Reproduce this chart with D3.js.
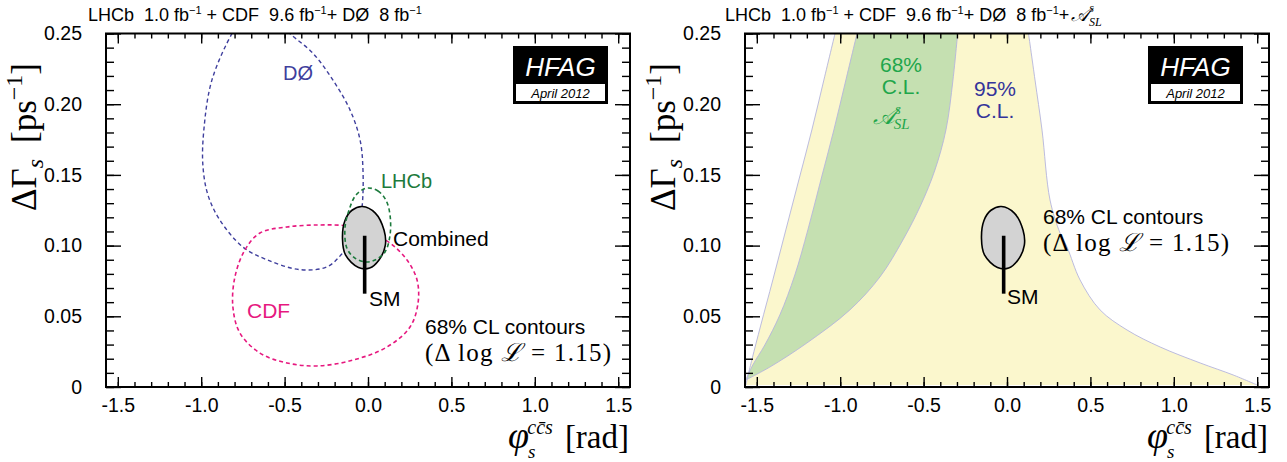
<!DOCTYPE html>
<html><head><meta charset="utf-8">
<script src="https://cdn.jsdelivr.net/npm/d3@7"></script>
<style>body{margin:0;background:#fff}svg{display:block}text{white-space:pre}</style>
</head><body>
<script>
// ---- data ----
const xTicks = [-1.5, -1.0, -0.5, 0.0, 0.5, 1.0, 1.5];
const yTicks = [0, 0.05, 0.10, 0.15, 0.20, 0.25];
const xDomain = [-Math.PI/2, Math.PI/2];
const yDomain = [0, 0.25];

// left panel contours [phi_s, dGamma_s]
const d0Contour = [[-0.74,0.262],[-0.81,0.251],[-0.936,0.217],[-0.984,0.182],[-0.99,0.157],[-0.96,0.136],[-0.888,0.118],[-0.75,0.099],[-0.606,0.090],[-0.408,0.083],[-0.246,0.085],[-0.15,0.095],[-0.066,0.109],[-0.036,0.127],[-0.03,0.153],[-0.048,0.175],[-0.108,0.196],[-0.21,0.217],[-0.33,0.236],[-0.468,0.250],[-0.53,0.258]];
const lhcbContour = [[-0.006,0.1407],[0.06,0.1386],[0.108,0.132],[0.132,0.1216],[0.132,0.1075],[0.102,0.0955],[0.042,0.0898],[-0.012,0.0884],[-0.078,0.0912],[-0.126,0.098],[-0.138,0.1124],[-0.114,0.125],[-0.072,0.1358]];
const cdfContour = [[-0.288,0.1146],[-0.126,0.1139],[0.012,0.1096],[0.132,0.1018],[0.234,0.0898],[0.294,0.0757],[0.3,0.0594],[0.252,0.0424],[0.114,0.0283],[-0.09,0.019],[-0.306,0.0149],[-0.486,0.017],[-0.648,0.024],[-0.768,0.0382],[-0.81,0.0566],[-0.798,0.0778],[-0.738,0.0969],[-0.648,0.1089],[-0.486,0.1132]];
const combinedContour = [[-0.034,0.1276],[0.044,0.123],[0.096,0.111],[0.104,0.1003],[0.066,0.0898],[0.01,0.0841],[-0.057,0.0845],[-0.135,0.0934],[-0.153,0.105],[-0.138,0.1178],[-0.096,0.125]];
const smPoint = {phi: -0.02, lo: 0.066, hi: 0.107};

// right panel bands (A_SL^s constraint)
const yellowLeft = [[-1.026,0.2525],[-1.098,0.2171],[-1.17,0.1818],[-1.248,0.1464],[-1.326,0.1111],[-1.404,0.0757],[-1.476,0.0438],[-1.53,0.0191],[-1.566,0.0014]];
const yellowRight = [[1.5,0.0014],[1.356,0.0085],[1.158,0.017],[0.918,0.0283],[0.72,0.0403],[0.558,0.0545],[0.438,0.0757],[0.36,0.099],[0.318,0.1089],[0.258,0.1322],[0.21,0.1817],[0.168,0.2171],[0.126,0.2525]];
const greenLeft = [[-0.894,0.2525],[-0.966,0.2171],[-1.038,0.1818],[-1.116,0.1464],[-1.194,0.1111],[-1.272,0.0792],[-1.362,0.0509],[-1.452,0.0297],[-1.524,0.0156],[-1.566,0.005]];
const greenRight = [[-1.566,0.005],[-1.422,0.0141],[-1.2,0.0311],[-0.942,0.0545],[-0.762,0.0778],[-0.624,0.104],[-0.516,0.1289],[-0.432,0.1535],[-0.366,0.1818],[-0.324,0.2171],[-0.294,0.2525]];

// ---- drawing ----
const W = 1287, H = 462;
const svg = d3.select("body").append("svg").attr("width", W).attr("height", H);
const SANS = "Liberation Sans, Arial, sans-serif";
const SERIF = "Liberation Serif, Times New Roman, serif";

const panels = [
  {x0: 106, x1: 630, id: "L"},
  {x0: 745, x1: 1269, id: "R"}
];
const yTop = 33.5, yBot = 387;

panels.forEach(p => {
  p.x = d3.scaleLinear().domain(xDomain).range([p.x0, p.x1]);
  p.y = d3.scaleLinear().domain(yDomain).range([yBot, yTop]);
  svg.append("clipPath").attr("id", "clip" + p.id)
    .append("rect").attr("x", p.x0).attr("y", yTop).attr("width", p.x1 - p.x0).attr("height", yBot - yTop);
  p.g = svg.append("g").attr("clip-path", `url(#clip${p.id})`);
});

function line(p, curve) {
  return d3.line().x(d => p.x(d[0])).y(d => p.y(d[1])).curve(curve);
}

// Right panel bands
(function () {
  const p = panels[1];
  const cr = d3.curveCatmullRom;
  const cont = (pts) => line(p, cr)(pts).replace(/^M/, "L");
  const yl = line(p, cr)(yellowLeft) + cont(yellowRight) + "Z";
  p.g.append("path").attr("d", yl).attr("fill", "#fbf7cd").attr("stroke", "none");
  const gr = line(p, cr)(greenLeft) + cont(greenRight) + "Z";
  p.g.append("path").attr("d", gr).attr("fill", "#c5e0b1").attr("stroke", "none");
  [yellowLeft, yellowRight, greenLeft, greenRight].forEach(e => {
    p.g.append("path").attr("d", line(p, cr)(e)).attr("fill", "none")
      .attr("stroke", "#b4b4dc").attr("stroke-width", 0.9);
  });
})();

// Left panel contours
(function () {
  const p = panels[0];
  p.g.append("path").attr("d", line(p, d3.curveCatmullRom)(d0Contour))
    .attr("fill", "none").attr("stroke", "#3f3f9d").attr("stroke-width", 1.4).attr("stroke-dasharray", "4,3");
  p.g.append("path").attr("d", line(p, d3.curveCatmullRomClosed)(cdfContour))
    .attr("fill", "none").attr("stroke", "#e6187f").attr("stroke-width", 1.6).attr("stroke-dasharray", "4,3");
  p.g.append("path").attr("d", line(p, d3.curveCatmullRomClosed)(combinedContour))
    .attr("fill", "#d3d3d3").attr("stroke", "#000").attr("stroke-width", 1.6);
  p.g.append("path").attr("d", line(p, d3.curveCatmullRomClosed)(lhcbContour))
    .attr("fill", "none").attr("stroke", "#1c7a3c").attr("stroke-width", 1.6).attr("stroke-dasharray", "4,3");
})();

// Right panel combined contour
(function () {
  const p = panels[1];
  p.g.append("path").attr("d", line(p, d3.curveCatmullRomClosed)(combinedContour))
    .attr("fill", "#d3d3d3").attr("stroke", "#000").attr("stroke-width", 1.6);
})();

// SM lines
panels.forEach(p => {
  p.g.append("line").attr("x1", p.x(smPoint.phi)).attr("x2", p.x(smPoint.phi))
    .attr("y1", p.y(smPoint.hi)).attr("y2", p.y(smPoint.lo))
    .attr("stroke", "#000").attr("stroke-width", 3.6);
});

// Axes
const fmtX = v => v.toFixed(1);
const fmtY = v => v === 0 ? "0" : v.toFixed(2);
const xMinor = d3.range(-15, 16).map(i => i / 10);
const yMinor = d3.range(0, 26).map(i => i / 100);

panels.forEach(p => {
  const mk = (axis, tr) => {
    const g = svg.append("g").attr("transform", tr).call(axis);
    g.select(".domain").remove();
    g.selectAll(".tick line").attr("stroke", "#000").attr("stroke-width", 1.4);
    return g;
  };
  mk(d3.axisBottom(p.x).tickValues(xMinor).tickSize(-5).tickFormat(""), `translate(0,${yBot})`);
  mk(d3.axisTop(p.x).tickValues(xMinor).tickSize(-5).tickFormat(""), `translate(0,${yTop})`);
  mk(d3.axisLeft(p.y).tickValues(yMinor).tickSize(-8).tickFormat(""), `translate(${p.x0},0)`);
  mk(d3.axisRight(p.y).tickValues(yMinor).tickSize(-8).tickFormat(""), `translate(${p.x1},0)`);
  const gb = mk(d3.axisBottom(p.x).tickValues(xTicks).tickSize(-10).tickPadding(11).tickFormat(fmtX), `translate(0,${yBot})`);
  gb.selectAll("text").attr("font-family", SANS).attr("font-size", 19.5).attr("fill", "#000").attr("dy", "0.71em");
  mk(d3.axisTop(p.x).tickValues(xTicks).tickSize(-10).tickFormat(""), `translate(0,${yTop})`);
  const gl = mk(d3.axisLeft(p.y).tickValues(yTicks).tickSize(-15).tickPadding(24).tickFormat(fmtY), `translate(${p.x0},0)`);
  gl.selectAll("text").attr("font-family", SANS).attr("font-size", 19.5).attr("fill", "#000");
  mk(d3.axisRight(p.y).tickValues(yTicks).tickSize(-15).tickFormat(""), `translate(${p.x1},0)`);
  svg.append("rect").attr("x", p.x0).attr("y", yTop).attr("width", p.x1 - p.x0).attr("height", yBot - yTop)
    .attr("fill", "none").attr("stroke", "#000").attr("stroke-width", 2);

  // y label
  const yl = svg.append("text").attr("transform", `translate(${p.x0 - 70},137) rotate(-90)`)
    .attr("text-anchor", "middle").attr("font-family", SERIF).attr("font-size", 35).attr("fill", "#000");
  yl.append("tspan").text("ΔΓ");
  yl.append("tspan").attr("font-style", "italic").attr("font-size", 24).attr("dy", 7).text("s");
  yl.append("tspan").attr("dy", -7).attr("dx", 16).text("[ps");
  yl.append("tspan").attr("font-size", 24).attr("dy", -14).text("−1");
  yl.append("tspan").attr("dy", 14).text("]");

  // x label
  const xl = svg.append("text").attr("x", p.x1 - 1).attr("y", 448).attr("text-anchor", "end")
    .attr("font-family", SERIF).attr("font-size", 38).attr("fill", "#000");
  xl.append("tspan").attr("font-style", "italic").text("φ");
  xl.append("tspan").attr("font-style", "italic").attr("font-size", 19).attr("dy", 10).attr("dx", -1).text("s");
  xl.append("tspan").attr("font-style", "italic").attr("font-size", 20).attr("dy", -24).attr("dx", -8).text("cc̄s");
  xl.append("tspan").attr("dy", 14).attr("dx", 12).attr("font-size", 33).text("[rad]");

  // HFAG logo
  const lx = p.x0 + (p.id === "L" ? 407 : 403);
  svg.append("rect").attr("x", lx).attr("y", 46).attr("width", 95).attr("height", 58).attr("fill", "#000");
  svg.append("rect").attr("x", lx + 3).attr("y", 84).attr("width", 89).attr("height", 17).attr("fill", "#fff");
  svg.append("text").attr("x", lx + 47.5).attr("y", 76).attr("text-anchor", "middle")
    .attr("font-family", SANS).attr("font-style", "italic").attr("font-size", 26).attr("fill", "#fff").text("HFAG");
  svg.append("text").attr("x", lx + 47.5).attr("y", 98).attr("text-anchor", "middle")
    .attr("font-family", SANS).attr("font-style", "italic").attr("font-size", 13).attr("fill", "#000").text("April 2012");
});

// Titles
function title(x, withA) {
  const t = svg.append("text").attr("x", x).attr("y", 21).attr("font-family", SANS).attr("font-size", 18).attr("fill", "#000");
  const parts = [["LHCb  1.0 fb", "−1"], [" + CDF  9.6 fb", "−1"], ["+ DØ  8 fb", "−1"]];
  parts.forEach(([a, b], i) => {
    t.append("tspan").attr("dy", i === 0 ? 0 : 7).text(a);
    t.append("tspan").attr("font-size", 11).attr("dy", -7).text(b);
  });
  if (withA) {
    t.append("tspan").attr("dy", 7).text("+");
    t.append("tspan").attr("font-family", SERIF).attr("font-style", "italic").attr("font-size", 19).attr("dx", 2).text("𝒜");
    t.append("tspan").attr("font-family", SERIF).attr("font-style", "italic").attr("font-size", 12).attr("dy", -9).text("s");
    t.append("tspan").attr("font-family", SERIF).attr("font-style", "italic").attr("font-size", 12).attr("dy", 14).attr("dx", -5).text("SL");
  }
  return t;
}
title(88, false);
title(725, true);

// Annotations
const lab = (x, y, txt, col, size, fam, anchor) => svg.append("text").attr("x", x).attr("y", y)
  .attr("font-family", fam || SANS).attr("font-size", size || 21).attr("fill", col || "#000")
  .attr("text-anchor", anchor || "start").text(txt);
lab(283, 80, "DØ", "#3f3f9d", 20);
lab(381, 188, "LHCb", "#1c7a3c", 20);
lab(393, 246, "Combined", "#000", 21);
lab(369, 306, "SM", "#000", 21);
lab(247, 318, "CDF", "#e6187f", 21);
lab(425, 334, "68% CL contours", "#000", 21);
function dll(x, y) {
  const t = svg.append("text").attr("x", x).attr("y", y).attr("font-family", SERIF).attr("font-size", 25)
    .attr("fill", "#000").attr("textLength", 186).attr("lengthAdjust", "spacing");
  t.append("tspan").text("(Δ log ");
  t.append("tspan").attr("font-style", "italic").text("ℒ");
  t.append("tspan").text(" = 1.15)");
}
dll(425, 361);

lab(1007, 304, "SM", "#000", 21);
lab(1043, 224, "68% CL contours", "#000", 21);
dll(1043, 251);
lab(901, 72, "68%", "#1fa64b", 21, SANS, "middle");
lab(901, 94, "C.L.", "#1fa64b", 21, SANS, "middle");
(function () {
  const t = svg.append("text").attr("x", 873).attr("y", 124).attr("font-family", SERIF).attr("font-style", "italic")
    .attr("font-size", 23).attr("fill", "#1fa64b");
  t.append("tspan").text("𝒜");
  t.append("tspan").attr("font-size", 15).attr("dy", -10).text("s");
  t.append("tspan").attr("font-size", 15).attr("dy", 15).attr("dx", -7).text("SL");
})();
lab(995, 96, "95%", "#34349a", 21, SANS, "middle");
lab(995, 118, "C.L.", "#34349a", 21, SANS, "middle");
</script>
</body></html>
